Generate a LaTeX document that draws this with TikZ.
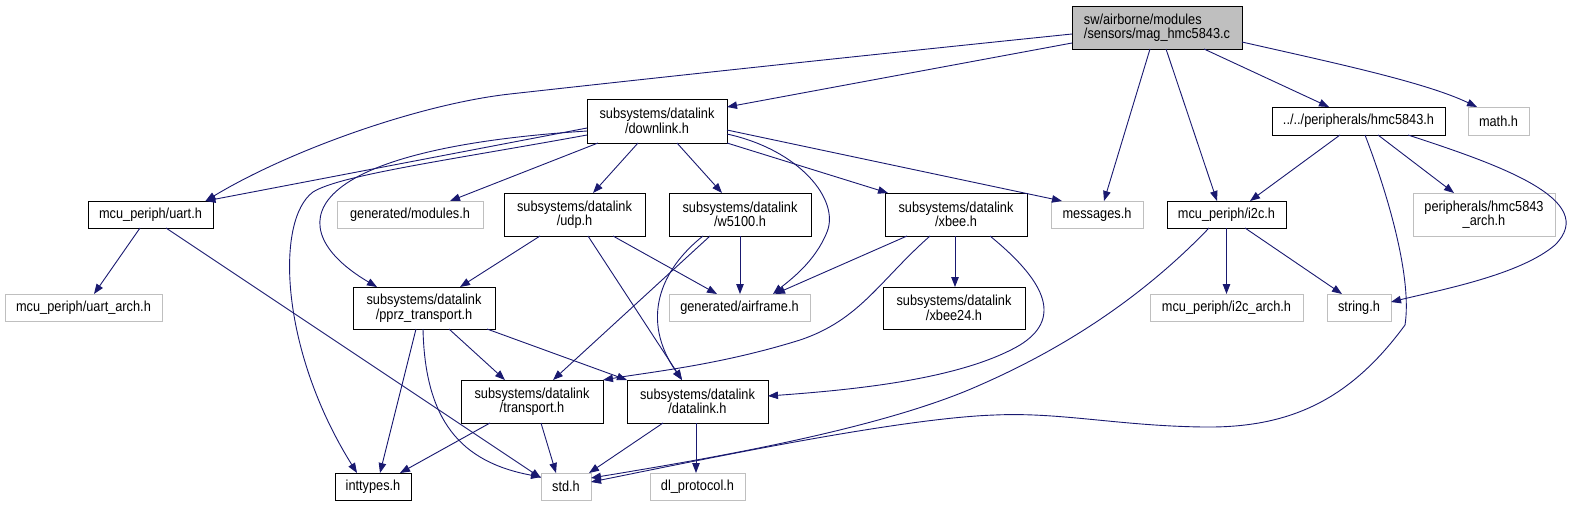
\documentclass[tikz,border=0pt]{standalone}
\usepackage{fontspec}
\setmainfont{Liberation Sans}[FakeStretch=0.88]
\usetikzlibrary{arrows.meta}
\definecolor{edgec}{HTML}{191970}
\definecolor{grayb}{HTML}{BFBFBF}
\tikzset{
  box/.style={draw=black, line width=0.8pt, inner sep=0pt, outer sep=0pt, align=center,
    font=\fontsize{14.5}{14.5}\selectfont},
  gbox/.style={box, draw=grayb},
  rootbox/.style={box, fill=grayb, align=left},
  dep/.style={draw=edgec, line width=0.9pt, -{Triangle[length=10pt,width=7.5pt]}},
}
\begin{document}
\begin{tikzpicture}[x=1pt,y=-1pt]
\useasboundingbox (0,0) rectangle (1581,507);
% nodes
\node[rootbox, minimum width=170pt, minimum height=43pt] (mag) at (1157,27.5) {sw/airborne/modules\\/sensors/mag\_hmc5843.c};
\node[box, minimum width=140pt, minimum height=44pt] (downlink) at (657,121) {subsystems/datalink\\/downlink.h};
\node[box, minimum width=125pt, minimum height=27pt] (uart) at (150.5,214.5) {mcu\_periph/uart.h};
\node[gbox, minimum width=146pt, minimum height=27pt] (modules) at (410,214.5) {generated/modules.h};
\node[box, minimum width=141pt, minimum height=43pt] (udp) at (574.5,214.5) {subsystems/datalink\\/udp.h};
\node[box, minimum width=142pt, minimum height=43pt] (w5100) at (740,214.5) {subsystems/datalink\\/w5100.h};
\node[box, minimum width=142pt, minimum height=43pt] (xbee) at (956,214.5) {subsystems/datalink\\/xbee.h};
\node[gbox, minimum width=92pt, minimum height=27pt] (messages) at (1097,214.5) {messages.h};
\node[box, minimum width=119pt, minimum height=27pt] (i2c) at (1226.5,214.5) {mcu\_periph/i2c.h};
\node[box, minimum width=173pt, minimum height=28pt] (hmc) at (1358.5,121) {../../peripherals/hmc5843.h};
\node[gbox, minimum width=61pt, minimum height=28pt] (math) at (1498.5,121) {math.h};
\node[gbox, minimum width=142pt, minimum height=43pt] (hmcarch) at (1484,214.5) {peripherals/hmc5843\\\_arch.h};
\node[gbox, minimum width=157pt, minimum height=27pt] (uartarch) at (83.5,307.5) {mcu\_periph/uart\_arch.h};
\node[box, minimum width=142pt, minimum height=42pt] (pprz) at (424,308) {subsystems/datalink\\/pprz\_transport.h};
\node[gbox, minimum width=141pt, minimum height=27pt] (airframe) at (739.5,307.5) {generated/airframe.h};
\node[box, minimum width=142pt, minimum height=42pt] (xbeetf) at (954,308) {subsystems/datalink\\/xbee24.h};
\node[gbox, minimum width=153pt, minimum height=27pt] (i2carch) at (1226.5,307.5) {mcu\_periph/i2c\_arch.h};
\node[gbox, minimum width=64pt, minimum height=27pt] (string) at (1359,307.5) {string.h};
\node[box, minimum width=142pt, minimum height=43pt] (transport) at (532,401.5) {subsystems/datalink\\/transport.h};
\node[box, minimum width=141pt, minimum height=43pt] (datalink) at (697.5,401.5) {subsystems/datalink\\/datalink.h};
\node[box, minimum width=76pt, minimum height=27pt] (inttypes) at (373,486.5) {inttypes.h};
\node[gbox, minimum width=50pt, minimum height=27pt] (std) at (566,486.5) {std.h};
\node[gbox, minimum width=95pt, minimum height=27pt] (dlproto) at (697.5,486.5) {dl\_protocol.h};
% edges from mag
\draw[dep] ([yshift=-6.5pt]mag.west) .. controls (800,62) and (600,84) .. (510,94) .. controls (420,104) and (290,150) .. ([xshift=55pt]uart.north);
\draw[dep] ([yshift=-15.5pt]mag.west) -- ([yshift=14pt]downlink.east);
\draw[dep] ([xshift=-7pt]mag.south) -- ([xshift=7pt]messages.north);
\draw[dep] ([xshift=9pt]mag.south) -- ([xshift=-9.5pt]i2c.north);
\draw[dep] ([xshift=47pt]mag.south) -- ([xshift=-29.5pt]hmc.north);
\draw[dep] ([yshift=-14.5pt]mag.east) .. controls (1330,62) and (1425,82) .. ([xshift=-21.5pt]math.north);
% edges from downlink
\draw[dep] ([yshift=-7pt]downlink.west) -- ([xshift=55pt]uart.north);
\draw[dep] ([yshift=-10pt]downlink.west) .. controls (290,150) and (280,230) .. ([xshift=-47pt]pprz.north);
\draw[dep] ([yshift=-14pt]downlink.west) .. controls (450,160) and (340,175) .. (313,192) .. controls (275,220) and (280,350) .. ([xshift=-16pt]inttypes.north);
\draw[dep] ([xshift=-59pt]downlink.south) -- ([xshift=40pt]modules.north);
\draw[dep] ([xshift=-19pt]downlink.south) -- ([xshift=18.5pt]udp.north);
\draw[dep] ([xshift=20pt]downlink.south) -- ([xshift=-18pt]w5100.north);
\draw[dep] (downlink.south east) -- ([xshift=-68pt]xbee.north);
\draw[dep] ([yshift=-13pt]downlink.east) .. controls (800,150) and (840,200) .. (827,232) .. controls (815,262) and (790,280) .. ([xshift=33.5pt]airframe.north);
\draw[dep] ([yshift=-9pt]downlink.east) -- ([xshift=-35pt]messages.north);
% uart
\draw[dep] ([xshift=-10.5pt]uart.south) -- ([xshift=10.5pt]uartarch.north);
\draw[dep] ([xshift=15.5pt]uart.south) -- ([yshift=8.5pt]std.west);
% udp
\draw[dep] ([xshift=-34.5pt]udp.south) -- ([xshift=36pt]pprz.north);
\draw[dep] ([xshift=38.5pt]udp.south) -- ([xshift=-22.5pt]airframe.north);
\draw[dep] ([xshift=13.5pt]udp.south) -- ([xshift=-15.5pt]datalink.north);
% w5100
\draw[dep] (w5100.south) -- ([xshift=0.5pt]airframe.north);
\draw[dep] ([xshift=-30pt]w5100.south) -- ([xshift=21pt]transport.north);
\draw[dep] ([xshift=-37pt]w5100.south) .. controls (660,270) and (640,320) .. ([xshift=-15.5pt]datalink.north);
% xbee
\draw[dep] ([xshift=-49pt]xbee.south) -- ([xshift=35.5pt]airframe.north);
\draw[dep] ([xshift=-1pt]xbee.south) -- ([xshift=1pt]xbeetf.north);
\draw[dep] ([xshift=-26pt]xbee.south) .. controls (880,280) and (860,320) .. (800,340) .. controls (720,365) and (650,372) .. (transport.north east);
\draw[dep] ([xshift=34pt]xbee.south) .. controls (1050,285) and (1060,320) .. (1020,345) .. controls (960,380) and (850,390) .. ([yshift=5.5pt]datalink.east);
% pprz
\draw[dep] ([xshift=-8pt]pprz.south) -- ([xshift=7pt]inttypes.north);
\draw[dep] ([xshift=-1pt]pprz.south) .. controls (425,420) and (460,462) .. ([yshift=9.5pt]std.west);
\draw[dep] ([xshift=25pt]pprz.south) -- ([xshift=-27pt]transport.north);
\draw[dep] ([xshift=63pt]pprz.south) -- (datalink.north west);
% transport, datalink
\draw[dep] ([xshift=-42pt]transport.south) -- ([xshift=27pt]inttypes.north);
\draw[dep] ([xshift=9pt]transport.south) -- ([xshift=-10pt]std.north);
\draw[dep] ([xshift=-34.5pt]datalink.south) -- ([xshift=23pt]std.north);
\draw[dep] ([xshift=-1.5pt]datalink.south) -- ([xshift=-1.5pt]dlproto.north);
% hmc
\draw[dep] ([xshift=-18.5pt]hmc.south) -- ([xshift=23.5pt]i2c.north);
\draw[dep] ([xshift=19.5pt]hmc.south) -- ([xshift=-30pt]hmcarch.north);
\draw[dep] ([xshift=49.5pt]hmc.south) .. controls (1500,165) and (1600,200) .. (1555,245) .. controls (1520,275) and (1440,290) .. ([yshift=5.5pt]string.east);
\draw[dep] ([xshift=6.5pt]hmc.south) .. controls (1390,200) and (1412,280) .. (1405,325) .. controls (1350,400) and (1290,428) .. (1204,427) .. controls (1120,426) and (1060,412) .. (995,415) .. controls (900,418) and (700,460) .. ([yshift=4.5pt]std.east);
% i2c
\draw[dep] (i2c.south) -- (i2carch.north);
\draw[dep] ([xshift=18.5pt]i2c.south) -- ([xshift=-17pt]string.north);
\draw[dep] ([xshift=-17.5pt]i2c.south) .. controls (1140,300) and (1060,350) .. (980,385) .. controls (880,430) and (700,460) .. ([yshift=8.5pt]std.east);
\end{tikzpicture}
\end{document}
